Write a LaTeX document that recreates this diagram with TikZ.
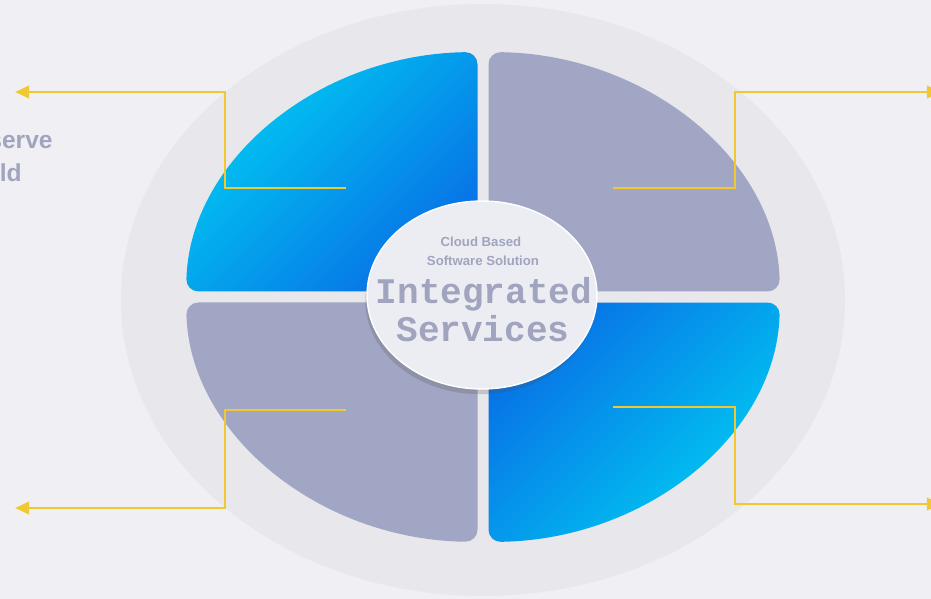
\documentclass[tikz,border=0pt]{standalone}
\usepackage{fontspec}
\setmainfont{Liberation Sans}
\newfontfamily\monofont{Liberation Mono}
\usetikzlibrary{arrows.meta,shadows,shapes.geometric}

\definecolor{bgGrey}{HTML}{F0F0F4}
\definecolor{ringGrey}{HTML}{E7E7EC}
\definecolor{slateBlue}{HTML}{A0A6C4}
\definecolor{skyCyan}{HTML}{00CDF2}
\definecolor{deepBlue}{HTML}{0870E6}
\definecolor{linkYellow}{HTML}{F2C832}
\definecolor{textGrey}{HTML}{A0A4BF}
\definecolor{hubWhite}{HTML}{ECEDF2}

\begin{document}
\begin{tikzpicture}[x=0.02cm, y=0.02cm]
  \fill [bgGrey] (0, 0) rectangle (931, 599);  % background and bounding box
  \useasboundingbox (0, 0) rectangle (931, 599);
  \tikzstyle{quarter}=[rounded corners=7pt]
  \tikzstyle{grey}=[fill=slateBlue]
  \tikzstyle{link}=[draw=linkYellow, line width=1.6pt, -{Triangle[length=8pt, width=7pt]}]
  \tikzstyle{side}=[text=textGrey, font=\bfseries\fontsize{14}{16}\selectfont, inner sep=0pt]
  \tikzstyle{small}=[text=textGrey, font=\bfseries\fontsize{7.5}{9}\selectfont, inner sep=0pt]
  \tikzstyle{big}=[text=textGrey, font=\monofont\bfseries\fontsize{20.5}{22}\selectfont, inner sep=0pt]

  \fill [ringGrey] (483, 299) ellipse [x radius=362, y radius=296];

  % quarters
  \shade[quarter, top color=skyCyan, bottom color=deepBlue, shading angle=45]
    (477.5, 307.5) -- (477.5, 547) arc [start angle=91.06, end angle=178.71, x radius=297, y radius=245] -- cycle;
  \fill[quarter, grey]
    (488.5, 307.5) -- (488.5, 547) arc [start angle=88.94, end angle=1.29, x radius=297, y radius=245] -- cycle;
  \fill[quarter, grey]
    (477.5, 296.5) -- (186.1, 296.5) arc [start angle=181.29, end angle=268.94, x radius=297, y radius=245] -- cycle;
  \shade[quarter, top color=deepBlue, bottom color=skyCyan, shading angle=45]
    (488.5, 296.5) -- (488.5, 57) arc [start angle=271.06, end angle=358.71, x radius=297, y radius=245] -- cycle;

  \node[ellipse, fill=hubWhite, draw=white, line width=0.8pt, minimum width=4.6cm, minimum height=3.76cm,
        drop shadow={shadow xshift=-1pt, shadow yshift=-3pt, opacity=0.22, fill=black!70}] (hub) at (482, 304) {};

  \node[small] (cloud) at (481, 357) {Cloud Based};
  \node[small] (soft)  at (483, 338) {Software Solution};
  \node[big]   (integ) at (484, 305) {Integrated};
  \node[big]   (serv)  at (483, 270) {Services};

  \node[side, anchor=east] (sideA) at (53, 457) {serve};
  \node[side, anchor=east] (sideB) at (22, 426) {ld};

  \coordinate (tlS) at (346, 411);
  \coordinate (tlK) at (225, 507);
  \coordinate (tlE) at (15, 507);
  \coordinate (blS) at (346, 189);
  \coordinate (blK) at (225, 91);
  \coordinate (blE) at (15, 91);
  \coordinate (trS) at (613, 411);
  \coordinate (trK) at (735, 507);
  \coordinate (trE) at (941, 507);
  \coordinate (brS) at (613, 192);
  \coordinate (brK) at (735, 95);
  \coordinate (brE) at (941, 95);

  \draw[link] (tlS) -| (tlK) -- (tlE);
  \draw[link] (blS) -| (blK) -- (blE);
  \draw[link] (trS) -| (trK) -- (trE);
  \draw[link] (brS) -| (brK) -- (brE);
\end{tikzpicture}
\end{document}
